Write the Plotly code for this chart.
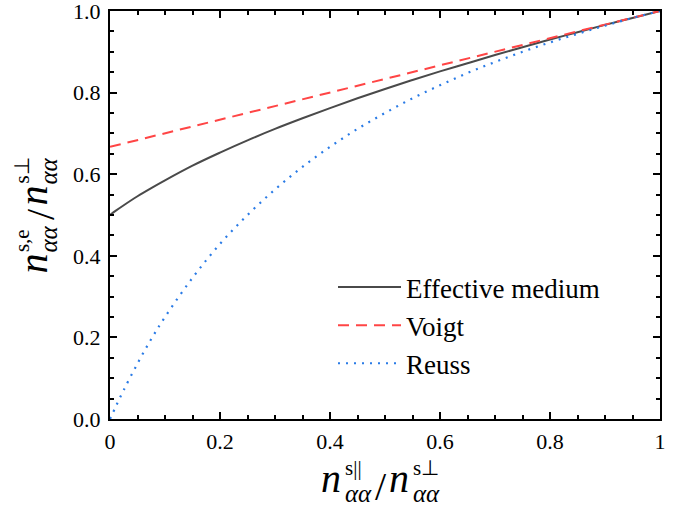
import plotly.graph_objects as go

# ---------------- data ----------------
x_vals = [0, 0.01, 0.025, 0.05, 0.075, 0.1, 0.15, 0.2, 0.25, 0.3, 0.35, 0.4,
          0.45, 0.5, 0.55, 0.6, 0.65, 0.7, 0.75, 0.8, 0.85, 0.9, 0.95, 1.0]
effective_medium = [0.500, 0.510, 0.524, 0.546, 0.566, 0.585, 0.621, 0.653, 0.683,
                    0.711, 0.737, 0.762, 0.786, 0.809, 0.831, 0.852, 0.872, 0.892,
                    0.911, 0.930, 0.948, 0.966, 0.983, 1.000]
reuss = [0.000, 0.029, 0.071, 0.136, 0.196, 0.250, 0.346, 0.429, 0.500, 0.5625,
         0.618, 0.667, 0.711, 0.750, 0.786, 0.818, 0.848, 0.875, 0.900, 0.923,
         0.944, 0.964, 0.983, 1.000]
x_voigt = [0, 1.0]
voigt = [0.667, 1.000]

x_tickvals = [0, 0.2, 0.4, 0.6, 0.8, 1.0]
x_ticktext = ["0", "0.2", "0.4", "0.6", "0.8", "1"]
y_tickvals = [0, 0.2, 0.4, 0.6, 0.8, 1.0]
y_ticktext = ["0.0", "0.2", "0.4", "0.6", "0.8", "1.0"]

series_names = ["Effective medium", "Voigt", "Reuss"]

# ---------------- figure ----------------
W, H = 689, 511
ML, MR, MT, MB = 110, 29, 11, 92
PW, PH = W - ML - MR, H - MT - MB
SERIF = "Liberation Serif"

fig = go.Figure()
fig.add_trace(go.Scatter(x=x_vals, y=effective_medium, mode="lines", name=series_names[0],
                         line=dict(color="#4a4a4a", width=2, shape="spline")))
fig.add_trace(go.Scatter(x=x_voigt, y=voigt, mode="lines", name=series_names[1],
                         line=dict(color="#ff4545", width=2, dash="11px,7px")))
fig.add_trace(go.Scatter(x=x_vals, y=reuss, mode="lines", name=series_names[2],
                         line=dict(color="#2a7be6", width=2.2, dash="2px,6px", shape="spline")))

for ax, tv, tt, standoff in ((fig.update_xaxes, x_tickvals, x_ticktext, 2),
                             (fig.update_yaxes, y_tickvals, y_ticktext, 3)):
    ax(range=[0, 1], tickmode="array", tickvals=tv, ticktext=tt,
       automargin=False, ticklabeloverflow="allow",
       showline=True, linecolor="black", linewidth=2, mirror="ticks",
       ticks="inside", ticklen=7, tickwidth=2, tickcolor="black",
       showgrid=False, zeroline=False,
       tickfont=dict(family=SERIF, size=22, color="black"),
       ticklabelstandoff=standoff,
       minor=dict(ticks="inside", ticklen=4, tickwidth=2, tickcolor="black",
                  dtick=0.05, showgrid=False))


def px2paper(px, py):
    return (px - ML) / PW, (H - MB - py) / PH


def label(text, px, py, size, angle=0, xanchor="center", italic=False):
    xp, yp = px2paper(px, py)
    fig.add_annotation(text=text, x=xp, y=yp, xref="paper", yref="paper",
                       showarrow=False, xanchor=xanchor, yanchor="middle",
                       textangle=angle,
                       font=dict(family=SERIF, size=size, color="black",
                                 style="italic" if italic else "normal"))


F_MAIN, F_SUP, F_SUB = 40, 21, 25

# x-axis title: n^{s||}_{αα} / n^{s⊥}_{αα}
label("n", 331, 478.5, F_MAIN, italic=True)
label("s||", 343, 467.5, F_SUP, xanchor="left")
label("αα", 343, 493.5, F_SUB, xanchor="left", italic=True)
label("/", 380.5, 486.5, F_MAIN)
label("n", 399, 478.5, F_MAIN, italic=True)
label("s⊥", 411, 467.5, F_SUP, xanchor="left")
label("αα", 411, 493.5, F_SUB, xanchor="left", italic=True)

# y-axis title: n^{s,e}_{αα} / n^{s⊥}_{αα}  (rotated, reading upwards)
S, B = 274, 46          # reading start (py) and main baseline (px)
label("n", B - 13.5, S - 10, F_MAIN, angle=-90, italic=True)
label("s,e", B - 24.5, S - 33.4, F_SUP, angle=-90)
label("αα", B + 1.5, S - 35, F_SUB, angle=-90, italic=True)
label("/", B - 5.5, S - 59.5, F_MAIN, angle=-90)
label("n", B - 13.5, S - 78, F_MAIN, angle=-90, italic=True)
label("s⊥", B - 24.5, S - 103, F_SUP, angle=-90)
label("αα", B + 1.5, S - 103, F_SUB, angle=-90, italic=True)

lx, ly = px2paper(333, 263)
fig.update_layout(
    width=W, height=H,
    margin=dict(l=ML, r=MR, t=MT, b=MB),
    paper_bgcolor="white", plot_bgcolor="white",
    showlegend=True,
    legend=dict(x=lx, y=ly, xanchor="left", yanchor="top",
                bgcolor="rgba(0,0,0,0)", borderwidth=0,
                font=dict(family=SERIF, size=27, color="black"),
                itemwidth=63, tracegroupgap=0),
)

fig.write_html("out.html", config={"displayModeBar": False},
               post_script="document.body.style.margin='0';")
